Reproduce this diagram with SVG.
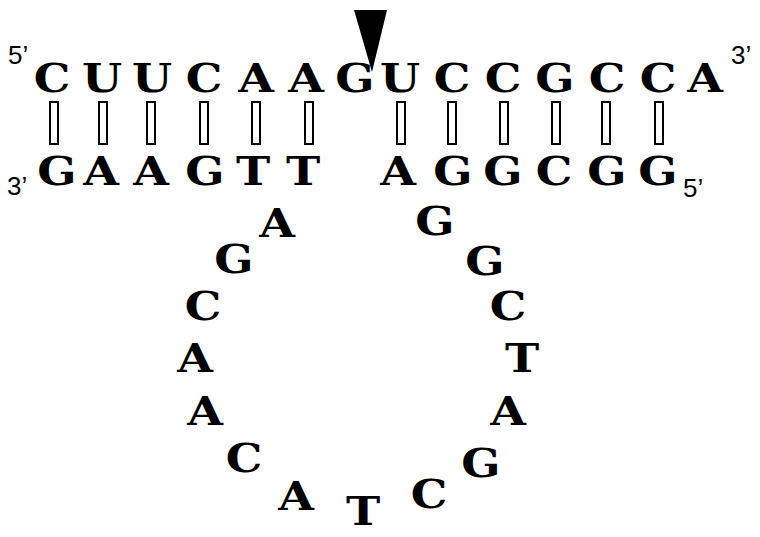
<svg xmlns="http://www.w3.org/2000/svg" width="760" height="537" viewBox="0 0 760 537">
<style>
.b{font-family:"DejaVu Serif","Liberation Serif",serif;font-weight:bold;font-size:40px;fill:#000;text-anchor:middle}
.e{font-family:"Liberation Sans",Arial,sans-serif;font-size:26px;fill:#000}
.bp{fill:#fff;stroke:#000;stroke-width:2}
</style>
<rect width="760" height="537" fill="#fff"/>
<defs>
<rect id="pair" x="-4" y="102" width="8" height="42" class="bp"/>
</defs>
<g id="labels">
<text class="e" x="8" y="64">5’</text>
<text class="e" x="731" y="64">3’</text>
<text class="e" x="7" y="195">3’</text>
<text class="e" x="683" y="197">5’</text>
</g>
<g id="cleavage-site">
<polygon points="354,10 387,10 372,72" fill="#000"/>
</g>
<g id="top-strand">
<text class="b" transform="translate(52,92) scale(1.15,1)">C</text>
<text class="b" transform="translate(102,92) scale(1.15,1)">U</text>
<text class="b" transform="translate(152,92) scale(1.15,1)">U</text>
<text class="b" transform="translate(204,92) scale(1.15,1)">C</text>
<text class="b" transform="translate(256,92) scale(1.15,1)">A</text>
<text class="b" transform="translate(306,92) scale(1.15,1)">A</text>
<text class="b" transform="translate(355,92) scale(1.15,1)">G</text>
<text class="b" transform="translate(400,92) scale(1.15,1)">U</text>
<text class="b" transform="translate(452,92) scale(1.15,1)">C</text>
<text class="b" transform="translate(503,92) scale(1.15,1)">C</text>
<text class="b" transform="translate(555,92) scale(1.15,1)">G</text>
<text class="b" transform="translate(607,92) scale(1.15,1)">C</text>
<text class="b" transform="translate(658,92) scale(1.15,1)">C</text>
<text class="b" transform="translate(705,92) scale(1.15,1)">A</text>
</g>
<g id="base-pairs">
<use href="#pair" x="54"/>
<use href="#pair" x="103"/>
<use href="#pair" x="151"/>
<use href="#pair" x="204"/>
<use href="#pair" x="256"/>
<use href="#pair" x="309"/>
<use href="#pair" x="401"/>
<use href="#pair" x="452"/>
<use href="#pair" x="504"/>
<use href="#pair" x="556"/>
<use href="#pair" x="606"/>
<use href="#pair" x="659"/>
</g>
<g id="bottom-strand">
<text class="b" transform="translate(57,185) scale(1.15,1)">G</text>
<text class="b" transform="translate(101,185) scale(1.15,1)">A</text>
<text class="b" transform="translate(151,185) scale(1.15,1)">A</text>
<text class="b" transform="translate(205,185) scale(1.15,1)">G</text>
<text class="b" transform="translate(253,185) scale(1.15,1)">T</text>
<text class="b" transform="translate(303,185) scale(1.15,1)">T</text>
<text class="b" transform="translate(398,185) scale(1.15,1)">A</text>
<text class="b" transform="translate(453,185) scale(1.15,1)">G</text>
<text class="b" transform="translate(503,185) scale(1.15,1)">G</text>
<text class="b" transform="translate(554,185) scale(1.15,1)">C</text>
<text class="b" transform="translate(607,185) scale(1.15,1)">G</text>
<text class="b" transform="translate(658,185) scale(1.15,1)">G</text>
</g>
<g id="loop">
<text class="b" transform="translate(277,237) scale(1.15,1)">A</text>
<text class="b" transform="translate(234,273) scale(1.15,1)">G</text>
<text class="b" transform="translate(203,320) scale(1.15,1)">C</text>
<text class="b" transform="translate(195,372) scale(1.15,1)">A</text>
<text class="b" transform="translate(205,425) scale(1.15,1)">A</text>
<text class="b" transform="translate(244,472) scale(1.15,1)">C</text>
<text class="b" transform="translate(296,510) scale(1.15,1)">A</text>
<text class="b" transform="translate(363,525) scale(1.15,1)">T</text>
<text class="b" transform="translate(429,508) scale(1.15,1)">C</text>
<text class="b" transform="translate(481,477) scale(1.15,1)">G</text>
<text class="b" transform="translate(508,425) scale(1.15,1)">A</text>
<text class="b" transform="translate(522,372) scale(1.15,1)">T</text>
<text class="b" transform="translate(508,320) scale(1.15,1)">C</text>
<text class="b" transform="translate(485,275) scale(1.15,1)">G</text>
<text class="b" transform="translate(435,235) scale(1.15,1)">G</text>
</g>
</svg>
